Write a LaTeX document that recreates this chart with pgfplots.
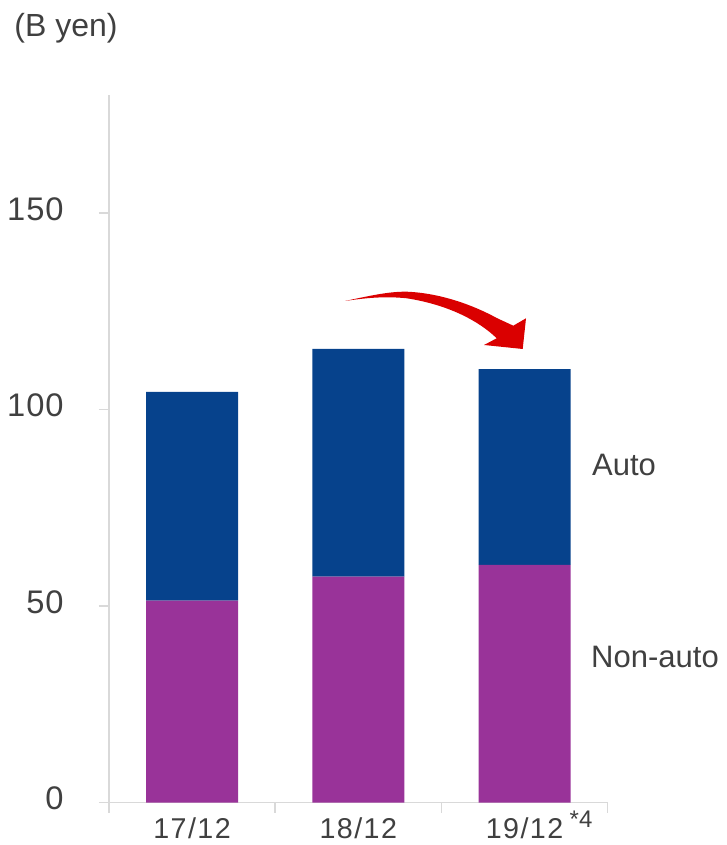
\documentclass[border=0pt]{standalone}
\usepackage{pgfplots}
\pgfplotsset{compat=1.18}
\usepackage{fontspec}
\setmainfont{Liberation Sans}
\definecolor{cblue}{RGB}{6,66,140}
\definecolor{cpurp}{RGB}{153,51,153}
\definecolor{cred}{RGB}{218,0,0}
\definecolor{ctext}{RGB}{64,64,64}
\definecolor{caxis}{RGB}{217,217,217}
\begin{document}
\begin{tikzpicture}
\useasboundingbox (0,0) rectangle (544.5pt,633.75pt);
\begin{axis}[
  at={(81.75pt,31.73pt)}, anchor=south west,
  scale only axis, width=374pt, height=530.8pt,
  xmin=-0.5, xmax=2.5, ymin=0, ymax=180,
  axis lines=left,
  axis line style={-, draw=caxis, line width=1.2pt},
  tick align=outside,
  major tick length=7.5pt,
  tick style={draw=caxis, line width=1.2pt},
  ytick={0,50,100,150},
  xtick={-0.5,0.5,1.5,2.5},
  xticklabels={},
  extra x ticks={0,1,2},
  extra x tick labels={17/12,18/12,19/12},
  extra x tick style={major tick length=0pt, tick label style={font=\fontsize{21.5}{26}\selectfont\addfontfeature{LetterSpace=5}, text=ctext, inner sep=0.5pt, anchor=north, yshift=-10.5pt}},
  yticklabel style={font=\fontsize{24.5}{28}\selectfont\addfontfeature{LetterSpace=3}, text=ctext, xshift=-23pt, yshift=3pt},
  /pgf/number format/assume math mode=true,
  ybar stacked, bar width=69pt,
  clip=false,
]
\addplot[fill=cpurp, draw=none] coordinates {(0,51.4) (1,57.5) (2,60.5)};
\addplot[fill=cblue, draw=none] coordinates {(0,53.1) (1,57.9) (2,49.8)};
\end{axis}
\begin{scope}[x=0.75pt,y=-0.75pt,shift={(0pt,633.75pt)}]
  \node[font=\fontsize{24}{28}\selectfont, text=ctext] at (66,28) {(B yen)};
  \node[font=\fontsize{23.25}{28}\selectfont, text=ctext] at (624,465) {Auto};
  \node[font=\fontsize{23.25}{28}\selectfont, text=ctext] at (655,657) {Non-auto};
  \node[font=\fontsize{18}{22}\selectfont, text=ctext] at (581,819) {*4};
  \fill[cred] (345,301)
     .. controls (373,295) and (390,291.5) .. (406.7,291.7)
     .. controls (440,293) and (473,305) .. (496.7,318)
     -- (513.3,325.7) -- (526,318.3) -- (522.7,349) -- (484,345) -- (496.7,338.3)
     .. controls (480,322) and (450,305) .. (406.7,298.3)
     .. controls (385,296) and (365,298) .. (345,301) -- cycle;
\end{scope}
\end{tikzpicture}
\end{document}
